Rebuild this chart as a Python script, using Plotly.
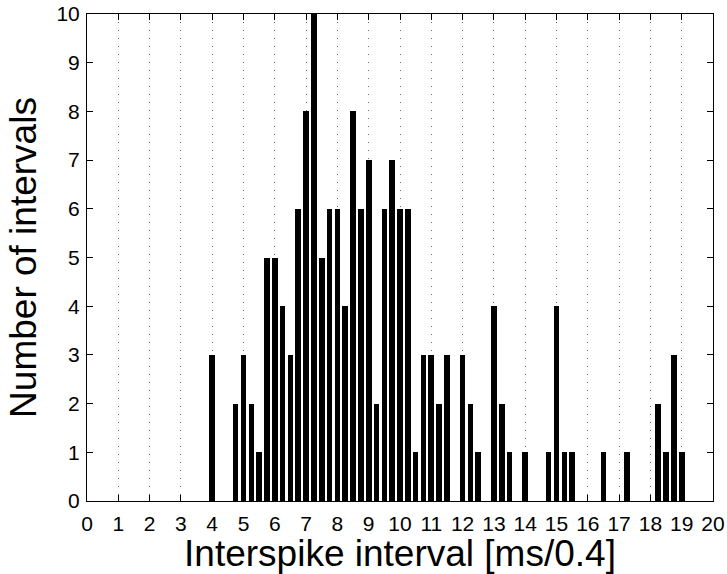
import plotly.graph_objects as go

# Bin centres (ms/0.4) and counts
isi_centres = [4.0, 4.75, 5.0, 5.25, 5.5, 5.75, 6.0, 6.25, 6.5, 6.75,
               7.0, 7.25, 7.5, 7.75, 8.0, 8.25, 8.5, 8.75, 9.0, 9.25,
               9.5, 9.75, 10.0, 10.25, 10.5, 10.75, 11.0, 11.25, 11.5,
               12.0, 12.25, 12.5, 13.0, 13.25, 13.5, 14.0, 14.75, 15.0,
               15.25, 15.5, 16.5, 17.25, 18.25, 18.5, 18.75, 19.0]
counts = [3, 2, 3, 2, 1, 5, 5, 4, 3, 6,
          8, 10, 5, 6, 6, 4, 8, 6, 7, 2,
          6, 7, 6, 6, 1, 3, 3, 2, 3,
          3, 2, 1, 4, 2, 1, 1, 1, 4,
          1, 1, 1, 1, 2, 1, 3, 1]
x_ticks = list(range(0, 21))
y_ticks = list(range(0, 11))

FONT = "Liberation Sans, Arial, Helvetica, sans-serif"

fig = go.Figure()
fig.add_trace(go.Bar(
    x=isi_centres, y=counts, width=0.18,
    marker=dict(color="black", line=dict(width=0)),
    showlegend=False,
))

fig.update_layout(
    width=727, height=574,
    margin=dict(l=87, r=14, t=14, b=73, pad=0, autoexpand=False),
    paper_bgcolor="white", plot_bgcolor="white",
    font=dict(family=FONT, color="black"),
    bargap=0,
)
fig.update_xaxes(
    range=[0, 20], tickmode="array", tickvals=x_ticks,
    ticktext=[str(v) for v in x_ticks],
    ticks="inside", ticklen=6, tickwidth=1, tickcolor="black",
    showline=True, linecolor="black", linewidth=1, mirror="ticks",
    showgrid=True, gridcolor="#666666", gridwidth=1, griddash="1px,7px",
    zeroline=False, automargin=False,
    tickfont=dict(family=FONT, size=21, color="black"),
    ticklabelstandoff=4,
    title=dict(text="Interspike interval [ms/0.4]",
               font=dict(family=FONT, size=37, color="black"), standoff=0),
)
fig.update_yaxes(
    range=[0, 10], tickmode="array", tickvals=y_ticks,
    ticktext=[str(v) for v in y_ticks],
    ticks="inside", ticklen=6, tickwidth=1, tickcolor="black",
    showline=True, linecolor="black", linewidth=1, mirror="ticks",
    showgrid=False, zeroline=False, automargin=False,
    tickfont=dict(family=FONT, size=21, color="black"),
    ticklabelstandoff=2,
    title=dict(text="Number of intervals",
               font=dict(family=FONT, size=37, color="black"), standoff=8),
)

fig.write_html("out.html")
